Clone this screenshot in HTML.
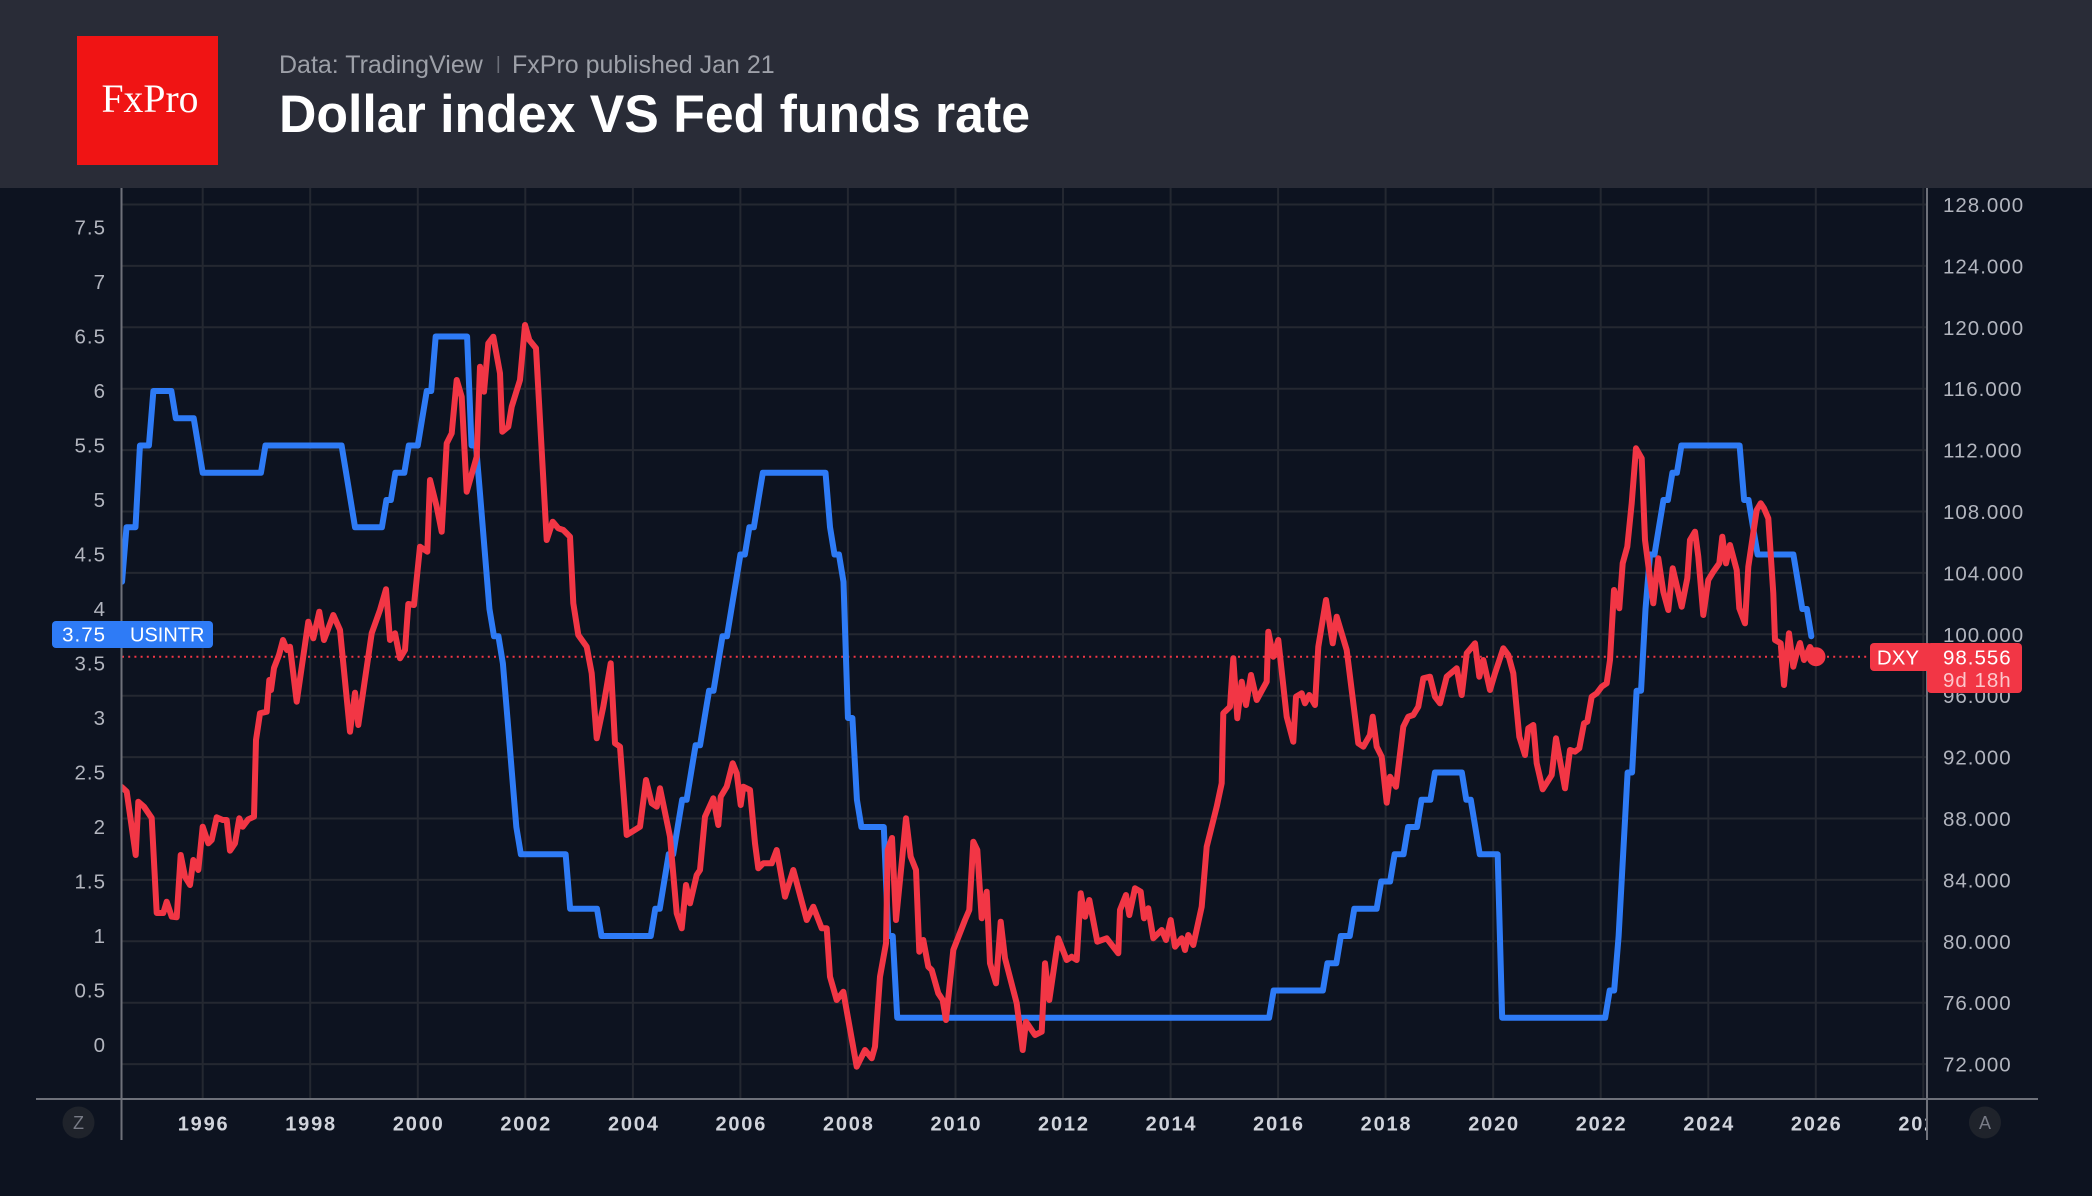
<!DOCTYPE html>
<html><head><meta charset="utf-8">
<style>
html,body{margin:0;padding:0;background:#0d1320;width:2092px;height:1196px;overflow:hidden;}
svg{display:block;}
text{font-family:"Liberation Sans",Arial,sans-serif;}
</style></head><body>
<svg width="2092" height="1196" viewBox="0 0 2092 1196" xmlns="http://www.w3.org/2000/svg">
<defs>
<clipPath id="plot"><rect x="122" y="188" width="1805" height="911"/></clipPath>
<clipPath id="xax"><rect x="122" y="1100" width="1804" height="60"/></clipPath>
</defs>
<rect width="2092" height="1196" fill="#0d1320"/>
<!-- header -->
<rect width="2092" height="188" fill="#292c37"/>
<rect x="77" y="36" width="141" height="129" fill="#f01414"/>
<text x="150" y="112" font-family="Liberation Serif, serif" style="font-family:'Liberation Serif',serif" font-size="40" fill="#ffffff" text-anchor="middle" textLength="97" lengthAdjust="spacingAndGlyphs">FxPro</text>
<text x="279" y="73" font-size="25" fill="#9da0a8">Data: TradingView</text>
<rect x="497.5" y="56" width="1.6" height="17" fill="#6c6f78"/>
<text x="512" y="73" font-size="25" fill="#9da0a8">FxPro published Jan 21</text>
<text x="279" y="132" font-size="53" font-weight="bold" fill="#ffffff" textLength="751" lengthAdjust="spacingAndGlyphs">Dollar index VS Fed funds rate</text>

<!-- grid -->
<g stroke="#242831" stroke-width="2">
<line x1="122" y1="204.5" x2="1927" y2="204.5"/>
<line x1="122" y1="265.9" x2="1927" y2="265.9"/>
<line x1="122" y1="327.3" x2="1927" y2="327.3"/>
<line x1="122" y1="388.7" x2="1927" y2="388.7"/>
<line x1="122" y1="450.1" x2="1927" y2="450.1"/>
<line x1="122" y1="511.5" x2="1927" y2="511.5"/>
<line x1="122" y1="572.9" x2="1927" y2="572.9"/>
<line x1="122" y1="634.3" x2="1927" y2="634.3"/>
<line x1="122" y1="695.7" x2="1927" y2="695.7"/>
<line x1="122" y1="757.1" x2="1927" y2="757.1"/>
<line x1="122" y1="818.5" x2="1927" y2="818.5"/>
<line x1="122" y1="879.9" x2="1927" y2="879.9"/>
<line x1="122" y1="941.3" x2="1927" y2="941.3"/>
<line x1="122" y1="1002.7" x2="1927" y2="1002.7"/>
<line x1="122" y1="1064.1" x2="1927" y2="1064.1"/>
<line x1="202.7" y1="188" x2="202.7" y2="1099"/>
<line x1="310.2" y1="188" x2="310.2" y2="1099"/>
<line x1="417.8" y1="188" x2="417.8" y2="1099"/>
<line x1="525.3" y1="188" x2="525.3" y2="1099"/>
<line x1="632.9" y1="188" x2="632.9" y2="1099"/>
<line x1="740.4" y1="188" x2="740.4" y2="1099"/>
<line x1="847.9" y1="188" x2="847.9" y2="1099"/>
<line x1="955.5" y1="188" x2="955.5" y2="1099"/>
<line x1="1063" y1="188" x2="1063" y2="1099"/>
<line x1="1170.6" y1="188" x2="1170.6" y2="1099"/>
<line x1="1278.1" y1="188" x2="1278.1" y2="1099"/>
<line x1="1385.6" y1="188" x2="1385.6" y2="1099"/>
<line x1="1493.2" y1="188" x2="1493.2" y2="1099"/>
<line x1="1600.7" y1="188" x2="1600.7" y2="1099"/>
<line x1="1708.3" y1="188" x2="1708.3" y2="1099"/>
<line x1="1815.8" y1="188" x2="1815.8" y2="1099"/>
<line x1="1923.3" y1="188" x2="1923.3" y2="1099"/>
</g>

<!-- dotted last price line -->
<line x1="122" y1="656.7" x2="1870" y2="656.7" stroke="#f23645" stroke-width="2" stroke-dasharray="2 4.2"/>

<g clip-path="url(#plot)">
<!-- USINTR blue -->
<g transform="matrix(53.77 0 0 -109 -119.92 1045)">
<path fill="none" stroke="#2e7bf6" stroke-width="6" vector-effect="non-scaling-stroke" stroke-linejoin="round" stroke-linecap="round" d="M4.5,4.25 L4.583,4.75 4.75,4.75 4.833,5.5 5,5.5 5.083,6 5.417,6 5.5,5.75 5.833,5.75 5.917,5.5 6,5.25 7.083,5.25 7.167,5.5 8.583,5.5 8.667,5.25 8.75,5 8.833,4.75 9.333,4.75 9.417,5 9.5,5 9.583,5.25 9.75,5.25 9.833,5.5 10,5.5 10.083,5.75 10.167,6 10.25,6 10.333,6.5 10.917,6.5 11,5.5 11.083,5.5 11.167,5 11.25,4.5 11.333,4 11.417,3.75 11.5,3.75 11.583,3.5 11.667,3 11.75,2.5 11.833,2 11.917,1.75 12.75,1.75 12.833,1.25 13.333,1.25 13.417,1 14.333,1 14.417,1.25 14.5,1.25 14.583,1.5 14.667,1.75 14.75,1.75 14.833,2 14.917,2.25 15,2.25 15.083,2.5 15.167,2.75 15.25,2.75 15.333,3 15.417,3.25 15.5,3.25 15.583,3.5 15.667,3.75 15.75,3.75 15.833,4 15.917,4.25 16,4.5 16.083,4.5 16.167,4.75 16.25,4.75 16.333,5 16.417,5.25 17.583,5.25 17.667,4.75 17.75,4.5 17.833,4.5 17.917,4.25 18,3 18.083,3 18.167,2.25 18.25,2 18.667,2 18.75,1 18.833,1 18.917,0.25 25.833,0.25 25.917,0.5 26.833,0.5 26.917,0.75 27.083,0.75 27.167,1 27.333,1 27.417,1.25 27.833,1.25 27.917,1.5 28.083,1.5 28.167,1.75 28.333,1.75 28.417,2 28.583,2 28.667,2.25 28.833,2.25 28.917,2.5 29.417,2.5 29.5,2.25 29.583,2.25 29.667,2 29.75,1.75 30.083,1.75 30.167,0.25 32.083,0.25 32.167,0.5 32.25,0.5 32.333,1 32.417,1.75 32.5,2.5 32.583,2.5 32.667,3.25 32.75,3.25 32.833,4 32.917,4.5 33,4.5 33.083,4.75 33.167,5 33.25,5 33.333,5.25 33.417,5.25 33.5,5.5 34.583,5.5 34.667,5 34.75,5 34.833,4.75 34.917,4.5 35.583,4.5 35.667,4.25 35.75,4 35.833,4 35.917,3.75"/>
</g>
<!-- DXY red -->
<polyline fill="none" stroke="#f23645" stroke-width="6" stroke-linejoin="round" stroke-linecap="round" points="
121.7,787 126.7,791.7 135.7,855 138.3,801.7 144,806.7 151.7,818 156.7,913 163.3,913 166.7,901.7 171.7,916.7 176.7,917.3 180.7,855 185,876.7 190,885 193.3,860 198.3,870 202.7,826.7 208.3,843.3 211.7,840 216.7,817.3 222.7,820 226.7,820 230,850.7 235,843.3 239.3,818.3 242.7,826.7 248.3,819.3 254,816.7 256,740 260,713.3 266.7,711.7 269.3,680 271,690 274,668 279,655 283,640 287,650 290,646.7 296.7,701.7 308.3,621.7 313.3,638.3 319.3,611.7 324,640 333.3,615 340,630 350,731.7 355,692.7 358.3,725 371.7,633.3 380,610 386,589.3 390,640 395,633.3 400,658.3 405,650 408.3,604 414,605 420,546.7 427.3,551.7 430,480 436.7,506.7 441.7,531.7 446.7,443.3 451.7,433.3 456.7,380 461.7,396.7 466.7,491.7 476.7,456.7 480,366.7 484,391.7 488.3,343.3 493.3,336.7 500,373.3 502.3,431.7 508.3,426.7 511.7,406.7 520,380 525,325 529.3,340 536,348.3 546.7,540 552.7,521.7 558.3,528.3 563.3,530 570,536.7 573.3,603.3 578.3,635 586.7,646.7 591.7,673.3 596.7,738.3 603.3,706.7 610.7,663.3 615,743.3 620,746.7 626.7,835 640,826.7 646,780 651.7,803.3 656.7,806.7 660,788.3 670,836.7 676.7,913.3 681.7,928.3 686,885 690,903.3 696.7,875 700,870 705,816.7 713.3,798.3 718.3,825 720.7,796.7 726.7,786.7 732.7,763.3 736.7,773.3 740.7,805 743.3,786.7 750,790 755,843.3 758.3,868.3 763.3,863.3 771.7,863.3 776.7,850 785,896.7 793.3,870 806.7,920 813.3,906.7 821.7,928.3 826.7,928.3 830,976.7 836.7,1000 843.3,991.7 856.7,1066.7 865,1050 871.7,1058.3 875,1046.7 880,976.7 886,943.3 887.7,850 892,838 896,920 902,860 906,818.3 910.7,856.7 916,870 919.3,951.7 923.3,940 928.3,966.7 931.7,970 938.3,993.3 942.7,1000 946,1020 953.3,950 965,920 969.3,910 973.3,841.7 977.3,850 981.7,918.3 986.7,891.7 990,963.3 996,983.3 1000.7,921.7 1005,958.3 1016.7,1003.3 1022.7,1050 1026,1021.7 1035,1035 1041.7,1031.7 1045,963.3 1049.3,1000 1058.3,938.3 1066.7,960 1071.7,956.7 1076.7,960 1080.7,893.3 1085,916.7 1089.3,900 1097.3,941.7 1106.7,938.3 1118.3,953.3 1120,910 1126,895 1129.3,915 1135,888.3 1140.7,891.7 1144,918.3 1148.3,908.3 1153.3,938.3 1161.7,930 1166,940 1170.7,920 1175,946.7 1181.7,938.3 1185,950 1188.3,935 1193.3,945 1201.7,906.7 1206.7,846.7 1216.7,806.7 1221.7,783.3 1223.3,713.3 1230,706.7 1233.3,658.3 1237.3,718.3 1241.7,681.7 1246,705 1251,675 1256.7,700 1266.7,681.7 1268.3,631.7 1273.3,656.7 1278.3,640 1286.7,716.7 1293.3,741.7 1296,696.7 1301.7,693.3 1305,703.3 1309.3,695 1315,705 1318.3,646.7 1326,600 1332.7,643.3 1336.7,616.7 1346.7,650 1358.3,743.3 1363.3,746.7 1370,735 1372.7,716.7 1376.7,746.7 1381.7,756.7 1386.7,802.7 1390,776.7 1396,786.7 1403.3,726.7 1408.3,716.7 1413.3,715 1418.3,706.7 1423.3,678.3 1430,676.7 1435,696.7 1440,703.3 1446.7,676.7 1456.7,668.3 1461.7,695 1466.7,653.3 1475,643.3 1479.3,676.7 1483.3,660 1490,690 1495,673.3 1503.3,648.3 1508.3,655 1513.3,673.3 1519.3,736.7 1525,755 1528.3,728.3 1533.3,725 1536.7,763.3 1542.7,789.3 1551.7,775 1556,738.3 1565,788.3 1570,750 1575,751.7 1579.3,748.3 1584,723.3 1587.3,721.7 1591.7,696.7 1596.7,693.3 1601.7,686.7 1606.7,683.3 1610,660 1614,590 1619.3,608.3 1622.7,563.3 1627.3,546.7 1631.7,503.3 1636,448.3 1641.7,458.3 1645,540 1653.3,603.3 1658.3,558.3 1663.3,591.7 1668.3,610 1672.7,568.3 1681.7,606.7 1687.3,578.3 1690,540 1695,531.7 1698.3,556.7 1703.3,615 1708.3,580 1713.3,571.7 1719.3,563.3 1722.3,536.7 1726,563.3 1730,545 1736.7,570 1739.3,608.3 1745,623.3 1748.3,566.7 1756.7,510 1760.7,503.3 1764,508.3 1768.3,518.3 1773.3,593.3 1775,640 1780.7,643.3 1784,685 1789,633.3 1793.3,666.7 1797,652 1800,643 1804,660 1810,647 1816,656.7"/>
</g>
<circle cx="1816" cy="656.7" r="9.5" fill="#f23645"/>

<!-- axes lines -->
<g stroke="#6e717a" stroke-width="2">
<line x1="121.5" y1="188" x2="121.5" y2="1140"/>
<line x1="1927" y1="188" x2="1927" y2="1140"/>
<line x1="36" y1="1099" x2="2038" y2="1099"/>
</g>

<!-- left axis labels -->
<g font-size="20.5" fill="#b2b5be" text-anchor="end" letter-spacing="1">
<text x="106" y="234.5">7.5</text>
<text x="106" y="289">7</text>
<text x="106" y="343.5">6.5</text>
<text x="106" y="398">6</text>
<text x="106" y="452.5">5.5</text>
<text x="106" y="507">5</text>
<text x="106" y="561.5">4.5</text>
<text x="106" y="616">4</text>
<text x="106" y="670.5">3.5</text>
<text x="106" y="725">3</text>
<text x="106" y="779.5">2.5</text>
<text x="106" y="834">2</text>
<text x="106" y="888.5">1.5</text>
<text x="106" y="943">1</text>
<text x="106" y="997.5">0.5</text>
<text x="106" y="1052">0</text>
</g>

<!-- right axis labels -->
<g font-size="20.5" fill="#b2b5be" letter-spacing="1">
<text x="1943" y="212">128.000</text>
<text x="1943" y="273.4">124.000</text>
<text x="1943" y="334.8">120.000</text>
<text x="1943" y="396.2">116.000</text>
<text x="1943" y="457.6">112.000</text>
<text x="1943" y="519">108.000</text>
<text x="1943" y="580.4">104.000</text>
<text x="1943" y="641.8">100.000</text>
<text x="1943" y="703.2">96.000</text>
<text x="1943" y="764.6">92.000</text>
<text x="1943" y="826">88.000</text>
<text x="1943" y="887.4">84.000</text>
<text x="1943" y="948.8">80.000</text>
<text x="1943" y="1010.2">76.000</text>
<text x="1943" y="1071.6">72.000</text>
</g>

<!-- x axis labels -->
<g font-size="20" font-weight="bold" fill="#d1d4dc" text-anchor="middle" letter-spacing="1.8" clip-path="url(#xax)">
<text x="203.6" y="1130.5">1996</text>
<text x="311.1" y="1130.5">1998</text>
<text x="418.7" y="1130.5">2000</text>
<text x="526.2" y="1130.5">2002</text>
<text x="633.8" y="1130.5">2004</text>
<text x="741.3" y="1130.5">2006</text>
<text x="848.8" y="1130.5">2008</text>
<text x="956.4" y="1130.5">2010</text>
<text x="1063.9" y="1130.5">2012</text>
<text x="1171.5" y="1130.5">2014</text>
<text x="1279" y="1130.5">2016</text>
<text x="1386.5" y="1130.5">2018</text>
<text x="1494.1" y="1130.5">2020</text>
<text x="1601.6" y="1130.5">2022</text>
<text x="1709.2" y="1130.5">2024</text>
<text x="1816.7" y="1130.5">2026</text>
<text x="1924.2" y="1130.5">2028</text>
</g>

<!-- USINTR label -->
<rect x="52" y="621" width="161" height="27" rx="4" fill="#2e7bf6"/>
<text x="106" y="641.5" font-size="20.5" fill="#ffffff" text-anchor="end" letter-spacing="1">3.75</text>
<text x="130" y="641.5" font-size="20" fill="#ffffff">USINTR</text>

<!-- DXY label -->
<rect x="1870" y="643" width="62" height="28" rx="4" fill="#f23645"/>
<text x="1898" y="664.5" font-size="20.5" fill="#ffffff" text-anchor="middle">DXY</text>
<rect x="1927" y="643" width="95" height="50" rx="4" fill="#f23645"/>
<text x="1943" y="664.5" font-size="20.5" fill="#ffffff" letter-spacing="1">98.556</text>
<text x="1943" y="687" font-size="20.5" fill="#ffffff" fill-opacity="0.72" letter-spacing="1">9d 18h</text>

<!-- corner buttons -->
<circle cx="78.5" cy="1122.5" r="16" fill="#1f232b"/>
<text x="78.5" y="1129" font-size="18" fill="#787b86" text-anchor="middle">Z</text>
<circle cx="1985" cy="1122.5" r="16" fill="#1f232b"/>
<text x="1985" y="1129" font-size="18" fill="#787b86" text-anchor="middle">A</text>
</svg>
</body></html>
